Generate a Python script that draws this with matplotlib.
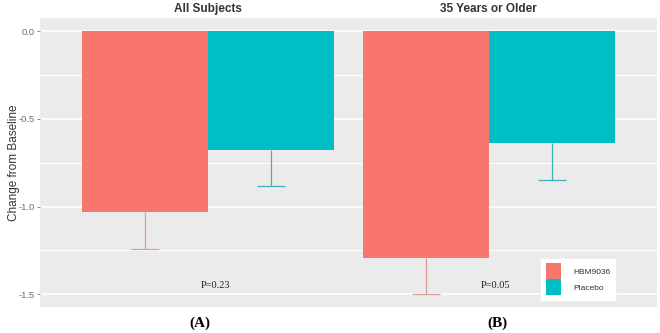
import matplotlib
matplotlib.use("Agg")
import matplotlib.pyplot as plt
from matplotlib.patches import Patch
from matplotlib.ticker import MultipleLocator

# ---- data ----
groups = ["All Subjects", "35 Years or Older"]
treatments = ["HBM9036", "Placebo"]
hbm_mean = [-1.03, -1.29]
hbm_se = [0.21, 0.21]
placebo_mean = [-0.675, -0.64]
placebo_se = [0.205, 0.21]
p_labels = ["P=0.23", "P=0.05"]
panel_labels = ["(A)", "(B)"]
y_ticks = [0.0, -0.5, -1.0, -1.5]

# ---- style ----
fill_colors = ["#F8766D", "#00BFC4"]
err_colors = ["#DE9C96", "#3DB2B8"]
sans = "Liberation Sans"
serif = "Liberation Serif"

fig = plt.figure(figsize=(6.6, 3.33), dpi=100)
ax = fig.add_axes([40 / 660, 1 - 307 / 333, 617 / 660, 289 / 333])
ax.set_facecolor("#EBEBEB")
for s in ax.spines.values():
    s.set_visible(False)

dodge = 0.45
bw = 0.45
cap = 0.1
xs = list(range(1, len(groups) + 1))
series = [(hbm_mean, hbm_se), (placebo_mean, placebo_se)]

for k, (means, ses) in enumerate(series):
    offs = (k - 0.5) * dodge
    pos = [x + offs for x in xs]
    ax.bar(pos, means, width=bw, color=fill_colors[k], zorder=3, label=treatments[k])
    lows = [m - s for m, s in zip(means, ses)]
    ax.vlines(pos, lows, means, colors=err_colors[k], linewidth=0.9, zorder=2)
    ax.hlines(lows, [p - cap / 2 for p in pos], [p + cap / 2 for p in pos],
              colors=err_colors[k], linewidth=0.9, zorder=2)

ax.set_xlim(0.4, len(groups) + 0.6)
ax.set_ylim(-1.572, 0.075)

ax.set_yticks(y_ticks)
ax.set_yticklabels([f"{v:.1f}" for v in y_ticks], fontsize=6.8, color="#6E6E6E", family=sans)
ax.yaxis.set_minor_locator(MultipleLocator(0.25))
ax.tick_params(axis="y", which="major", length=2.5, width=0.6, color="#777777", pad=1.5)
ax.tick_params(axis="y", which="minor", length=0)
ax.grid(axis="y", which="major", color="white", linewidth=1.1, zorder=0)
ax.grid(axis="y", which="minor", color="white", linewidth=0.7, zorder=0)
ax.grid(axis="x", visible=False)
ax.set_axisbelow(True)

ax.xaxis.tick_top()
ax.set_xticks(xs)
ax.set_xticklabels(groups, fontsize=8.5, fontweight="bold", color="#333333", family=sans)
ax.tick_params(axis="x", length=0, pad=2.0)

ax.set_ylabel("Change from Baseline", fontsize=8.5, color="#333333", family=sans)
ax.yaxis.set_label_coords(-0.033, 0.5)

# p-values
for x, lab in zip(xs, p_labels):
    ax.text(x + 0.025, -1.448, lab, ha="center", va="center", fontsize=7.5,
            family=serif, color="#222222", zorder=4)

# panel labels
for fx, lab in zip([200 / 660, 497 / 660], panel_labels):
    fig.text(fx, 1 - 323 / 333, lab, ha="center", va="center", fontsize=11,
             fontweight="bold", family=serif, color="black")

handles = [Patch(facecolor=c, edgecolor="none") for c in fill_colors]
leg = ax.legend(handles, treatments, loc="lower left", bbox_to_anchor=(0.812, 0.024),
                prop={"family": sans, "size": 6}, frameon=True, fancybox=False,
                framealpha=1, edgecolor="white", facecolor="white",
                handlelength=1.9, handleheight=2.6, labelspacing=0.0,
                handletextpad=1.4, borderpad=0.55, borderaxespad=0)
for t in leg.get_texts():
    t.set_color("#333333")

fig.savefig("out.png", dpi=100)
